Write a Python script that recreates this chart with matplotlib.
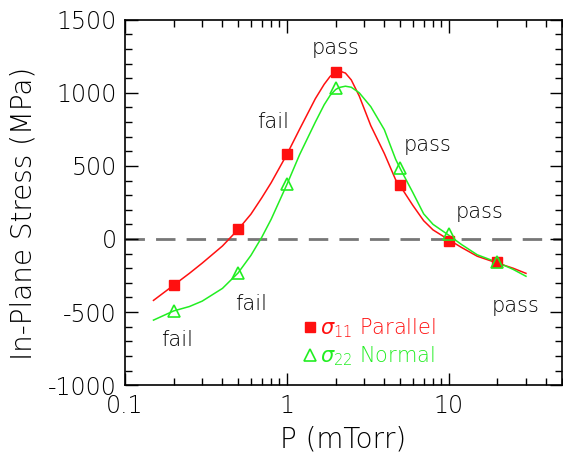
import numpy as np
import matplotlib
matplotlib.use("Agg")
import matplotlib.pyplot as plt
from matplotlib.ticker import LogLocator, MultipleLocator, FixedLocator, FixedFormatter

plt.rcParams["axes.unicode_minus"] = False
plt.rcParams["font.weight"] = "light"
plt.rcParams["axes.labelweight"] = "light"

# measured points
p_pts = [0.2, 0.5, 1, 2, 5, 10, 20]
s11_pts = [-316, 65, 580, 1145, 368, -12, -157]
s22_pts = [-496, -230, 377, 1032, 484, 35, -160]

# fitted curves
p_fit = [0.15, 0.2, 0.25, 0.3, 0.4, 0.5, 0.6, 0.7, 0.8, 1.0, 1.2, 1.5, 1.7, 1.85, 2.0,
         2.1, 2.3, 2.5, 2.8, 3.3, 4.0, 4.7, 5.0, 6.0, 7.0, 8.0, 10, 12, 15, 20, 25, 30]
s11_fit = [-420, -316, -235, -165, -48, 65, 170, 282, 385, 578, 752, 960, 1058, 1112, 1142,
           1150, 1135, 1088, 978, 775, 585, 405, 365, 230, 125, 62, -5, -58, -118, -165, -200, -235]
s22_fit = [-555, -492, -462, -425, -338, -232, -112, 12, 135, 372, 578, 800, 918, 982, 1022,
           1036, 1045, 1038, 1000, 905, 748, 545, 484, 318, 172, 100, 26, -38, -108, -160, -208, -255]

# labels
notes = [(2.0, 1305, "pass"), (0.82, 798, "fail"), (7.4, 641, "pass"), (15.5, 183, "pass"),
         (25.8, -461, "pass"), (0.60, -446, "fail"), (0.21, -692, "fail")]

red = "#ff1010"
green = "#22ee22"

fig = plt.figure(figsize=(5.63, 4.58), dpi=100)
ax = fig.add_axes([0.222, 0.159, 0.776, 0.798])

ax.axhline(0, color="#777777", lw=2, dashes=(7, 4), zorder=1)

ax.plot(p_fit, s11_fit, color=red, lw=1.1, zorder=2)
ax.plot(p_fit, s22_fit, color=green, lw=1.1, zorder=2)
ax.plot(p_pts, s11_pts, ls="none", marker="s", ms=7, color=red, mec=red,
        label=r"$\sigma_{11}$ Parallel", zorder=3)
ax.plot(p_pts, s22_pts, ls="none", marker="^", ms=9, color=green, mfc="none", mew=1.2,
        label=r"$\sigma_{22}$ Normal", zorder=4)

for x, y, t in notes:
    ax.text(x, y, t, fontsize=15, color="black", ha="center", va="center")

ax.set_xscale("log")
ax.set_xlim(0.1, 50)
ax.set_ylim(-1000, 1500)
ax.xaxis.set_major_locator(FixedLocator([0.1, 1, 10]))
ax.xaxis.set_major_formatter(FixedFormatter(["0.1", "1", "10"]))
ax.xaxis.set_minor_locator(LogLocator(base=10, subs=np.arange(2, 10)))
ax.xaxis.set_minor_formatter(plt.NullFormatter())
ax.yaxis.set_major_locator(MultipleLocator(500))
ax.yaxis.set_minor_locator(MultipleLocator(100))

ax.tick_params(which="both", direction="in", top=True, right=True, labelsize=17, pad=6)
ax.tick_params(which="major", length=9, width=1)
ax.tick_params(which="minor", length=5, width=1)
for s in ax.spines.values():
    s.set_linewidth(1.2)

ax.set_xlabel("P (mTorr)", fontsize=20, labelpad=6)
ax.set_ylabel("In-Plane Stress (MPa)", fontsize=20)
ax.yaxis.set_label_coords(-0.2, 0.47)

leg = ax.legend(loc="upper left", bbox_to_anchor=(0.39, 0.21), frameon=False, fontsize=15,
                handlelength=0.6, handletextpad=0.2, labelspacing=0.2, borderaxespad=0)
for txt, c in zip(leg.get_texts(), [red, green]):
    txt.set_color(c)

fig.savefig("out.png", dpi=100)
